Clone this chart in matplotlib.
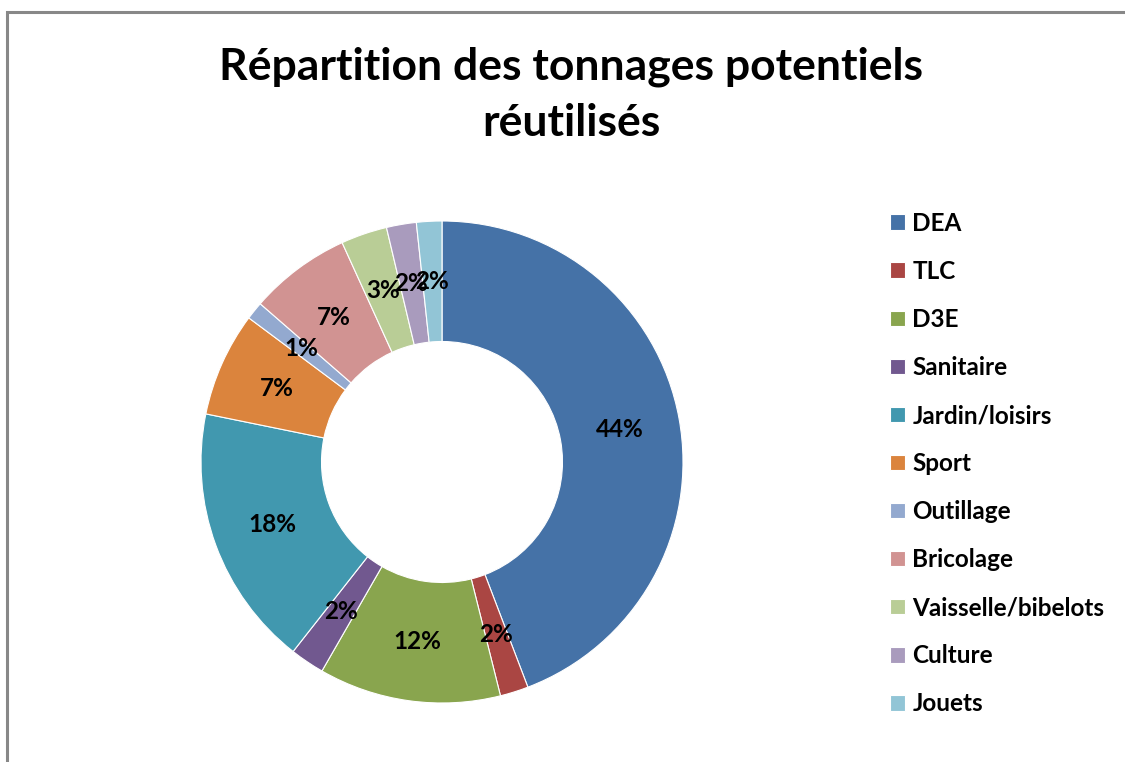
import matplotlib
matplotlib.use("Agg")
import matplotlib.pyplot as plt
from matplotlib.patches import Rectangle

categories = ["DEA", "TLC", "D3E", "Sanitaire", "Jardin/loisirs", "Sport",
              "Outillage", "Bricolage", "Vaisselle/bibelots", "Culture", "Jouets"]
values = [44.2, 1.9, 12.2, 2.3, 17.6, 7.0, 1.2, 6.8, 3.1, 2.0, 1.7]
colors = ["#4572A7", "#AA4643", "#89A54E", "#71588F", "#4198AF", "#DB843D",
          "#93A9CF", "#D19392", "#B9CD96", "#A99BBD", "#92C5D6"]
title = "Répartition des tonnages potentiels\nréutilisés"

plt.rcParams['font.family'] = ['Lato', 'DejaVu Sans']

W, H = 1125, 762
fig = plt.figure(figsize=(W / 100, H / 100), dpi=100)

# outer frame (grey, top and left visible)
fig.patches.append(Rectangle((7 / W, -0.05), 1.2, 1 - 12 / H + 0.05,
                             transform=fig.transFigure, fill=False,
                             edgecolor="#888888", linewidth=2.2))

cx, cy, r = 442, 462, 241
ax = fig.add_axes([(cx - r) / W, (H - cy - r) / H, 2 * r / W, 2 * r / H])
wedges, texts, autotexts = ax.pie(
    values, colors=colors, startangle=90, counterclock=False,
    radius=1.0, wedgeprops=dict(width=0.5, edgecolor="white", linewidth=0.8),
    autopct=lambda p: f"{p:.0f}%", pctdistance=0.75,
    textprops=dict(fontsize=17.5, fontweight="bold", color="black"))
ax.set_xlim(-1, 1)
ax.set_ylim(-1, 1)
ax.set_aspect("equal")
ax.axis("off")

fig.text(571 / W, 1 - 95 / H, title, ha="center", va="center",
         fontsize=32, fontweight="bold", linespacing=1.5)

leg = fig.legend(wedges, categories, loc="upper left",
                 bbox_to_anchor=(868 / W, 1 - 190 / H), frameon=False,
                 prop=dict(size=17.5, weight="bold"), handlelength=0.62,
                 handleheight=0.62, handletextpad=0.3, labelspacing=1.03)

fig.savefig("out.png", dpi=100)
